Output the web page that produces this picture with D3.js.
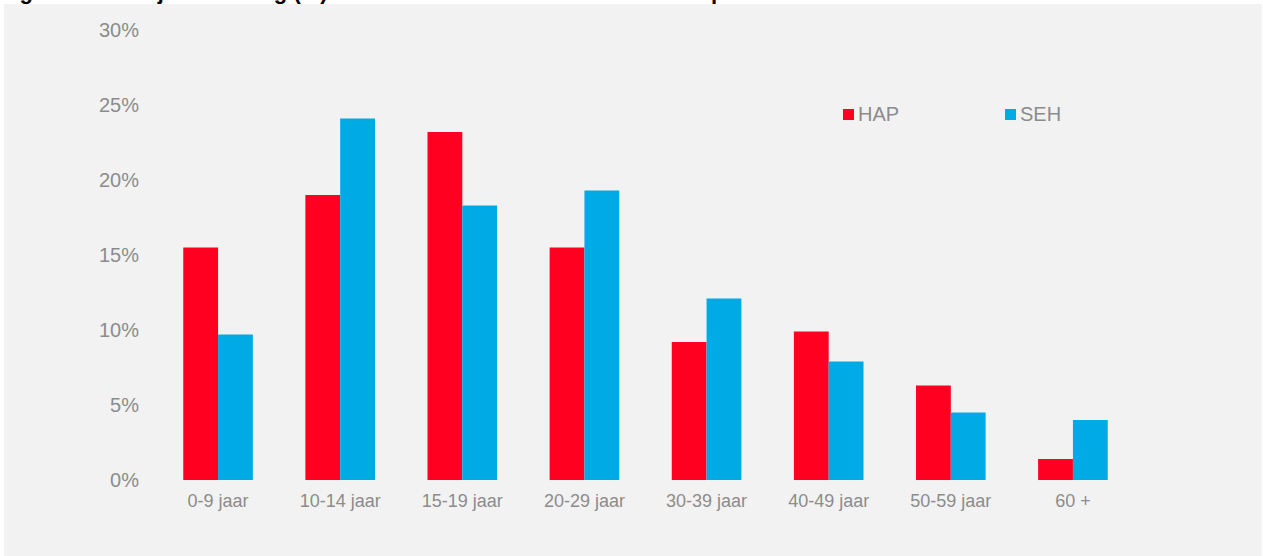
<!DOCTYPE html>
<html>
<head>
<meta charset="utf-8">
<script src="https://cdn.jsdelivr.net/npm/d3@7"></script>
<style>
  body { margin: 0; background: #fff; }
  text { font-family: "Liberation Sans", Arial, sans-serif; }
</style>
</head>
<body>
<svg width="1263" height="556"></svg>
<script>
const categories = ["0-9 jaar", "10-14 jaar", "15-19 jaar", "20-29 jaar", "30-39 jaar", "40-49 jaar", "50-59 jaar", "60 +"];
const series = ["HAP", "SEH"];
const hap = [15.5, 19.0, 23.2, 15.5, 9.2, 9.9, 6.3, 1.4];
const seh = [9.7, 24.1, 18.3, 19.3, 12.1, 7.9, 4.5, 4.0];
const yTicks = [0, 5, 10, 15, 20, 25, 30];
const colors = ["#ff0020", "#00aae4"];

const rows = categories.map((c, i) => ({ cat: c, HAP: hap[i], SEH: seh[i] }));

const svg = d3.select("svg");

// title is cut off by the top edge, only descenders show
svg.append("text")
    .attr("x", 0)
    .attr("y", -1)
    .attr("font-size", 22)
    .attr("font-weight", "bold")
    .attr("fill", "#000")
    .text("Figuur 3. Leeftijdsverdeling (%) van alle contacten met HAP en SEH per 100 contacten");

svg.append("rect")
    .attr("x", 4)
    .attr("y", 4)
    .attr("width", 1258)
    .attr("height", 552)
    .attr("fill", "#f2f2f2");

const x = d3.scaleBand()
    .domain(categories)
    .range([157, 1134])
    .paddingInner(0.43)
    .paddingOuter(0.215);

const xs = d3.scaleBand()
    .domain(series)
    .range([0, x.bandwidth()]);

const y = d3.scaleLinear()
    .domain([0, 30])
    .range([480, 30]);

const groups = svg.selectAll(".grp")
    .data(rows)
    .enter()
    .append("g")
    .attr("class", "grp")
    .attr("transform", d => `translate(${x(d.cat)},0)`);

groups.selectAll("rect")
    .data(d => series.map((s, i) => ({ s: s, v: d[s], c: colors[i] })))
    .enter()
    .append("rect")
    .attr("x", d => xs(d.s))
    .attr("y", d => y(d.v))
    .attr("width", xs.bandwidth())
    .attr("height", d => y(0) - y(d.v))
    .attr("fill", d => d.c);

const yAxis = svg.append("g")
    .attr("transform", "translate(139,0)")
    .call(d3.axisLeft(y).tickValues(yTicks).tickSize(0).tickPadding(0).tickFormat(d => d + "%"));
yAxis.select(".domain").remove();
yAxis.selectAll("text")
    .attr("font-size", 20)
    .attr("fill", "#8c8c8c")
    .attr("font-family", "Liberation Sans, Arial, sans-serif");

const xAxis = svg.append("g")
    .attr("transform", "translate(0,480)")
    .call(d3.axisBottom(x).tickSize(0).tickPadding(14));
xAxis.select(".domain").remove();
xAxis.selectAll("text")
    .attr("font-size", 18)
    .attr("fill", "#8c8c8c")
    .attr("font-family", "Liberation Sans, Arial, sans-serif");

// legend
const legendX = [843, 1005];
const legend = svg.selectAll(".leg")
    .data(series)
    .enter()
    .append("g")
    .attr("class", "leg")
    .attr("transform", (d, i) => `translate(${legendX[i]},109)`);
legend.append("rect")
    .attr("width", 11)
    .attr("height", 11)
    .attr("fill", (d, i) => colors[i]);
legend.append("text")
    .attr("x", 15)
    .attr("y", 12)
    .attr("font-size", 20)
    .attr("fill", "#8c8c8c")
    .text(d => d);
</script>
</body>
</html>
